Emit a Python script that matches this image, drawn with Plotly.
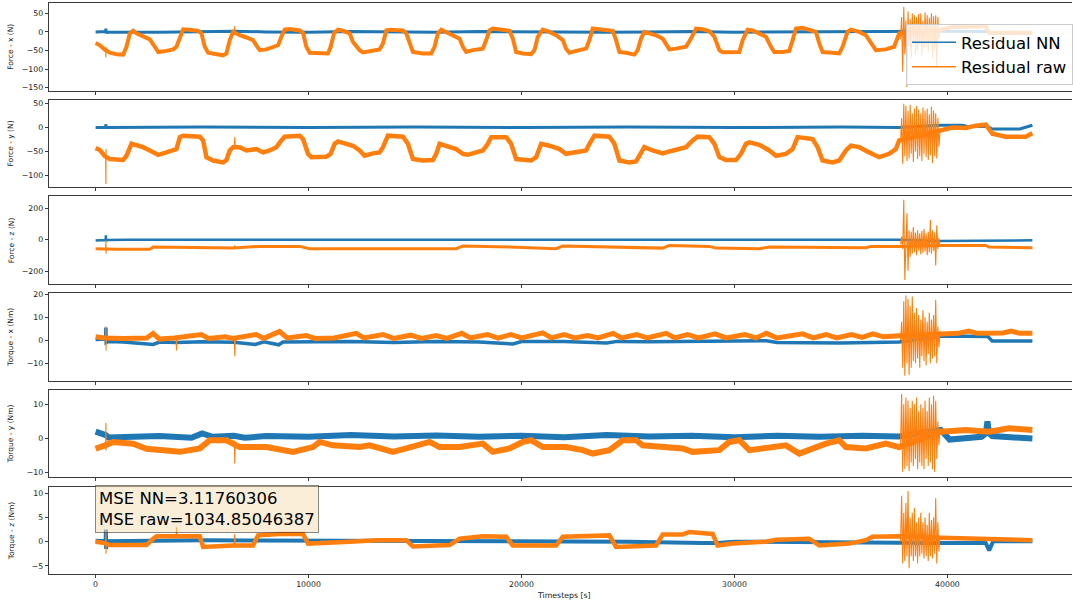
import plotly.graph_objects as go

W, H = 1073, 601
BLUE = '#1f77b4'
ORANGE = '#ff7f0e'
FONT = 'DejaVu Sans'

# ---------------- data (timestep, value) ----------------
x_ticks = [0, 10000, 20000, 30000, 40000]

fx_nn = [(0, 0), (470, 1), (483, 9), (495, -4), (520, 0), (3000, -1), (5000, 1), (6500, 2), (8000, 0),
         (10000, -1), (12000, 1), (14000, 0), (16000, -1), (18000, 1), (20000, 0), (22000, 1), (24000, -1),
         (26000, 0), (28000, 1), (30000, -1), (32000, 0), (34000, 1), (36000, 0), (37735, 1), (39690, 2),
         (41900, 1), (42100, -4), (43990, -3)]
fx_raw = [(0, -30), (201, -36), (440, -48), (671, -56), (983, -60), (1296, -61), (1452, -40), (1609, -4),
          (1765, 3), (1922, -4), (2234, -12), (2547, -20), (2782, -40), (2938, -54), (3329, -51), (3642, -47),
          (3798, -40), (3955, -13), (4111, 7), (4424, 6), (4815, 3), (4971, -4), (5127, -40), (5284, -56),
          (5675, -60), (5987, -63), (6144, -58), (6300, -22), (6457, 0), (6769, -9), (7082, -15), (7395, -22),
          (7551, -36), (7708, -49), (8020, -47), (8333, -40), (8568, -36), (8724, -13), (8880, 6), (9115, 8),
          (9584, 4), (9741, -3), (9897, -40), (10053, -56), (10522, -58), (10913, -58), (11039, -40),
          (11195, -4), (11383, 6), (11617, 3), (11930, -4), (12086, -27), (12399, -49), (12556, -55),
          (12868, -52), (13337, -47), (13494, -31), (13650, 4), (13807, 6), (14432, 4), (14588, -4),
          (14745, -31), (14901, -54), (15370, -58), (15761, -58), (15918, -40), (16074, -4), (16230, 6),
          (16465, 0), (16778, -9), (17091, -18), (17247, -40), (17403, -54), (17716, -49), (18185, -45),
          (18342, -22), (18498, 4), (18654, 9), (19123, 6), (19436, 3), (19593, -18), (19749, -54),
          (20062, -58), (20453, -60), (20609, -49), (20765, -13), (21000, 6), (21313, 0), (21626, -9),
          (21938, -22), (22095, -45), (22251, -56), (22720, -49), (23033, -45), (23189, -22), (23346, 9),
          (23815, 6), (24284, 3), (24440, -22), (24597, -54), (24910, -56), (25300, -61), (25457, -49),
          (25613, -18), (25770, 0), (26004, -3), (26317, -9), (26630, -18), (26942, -47), (27255, -45),
          (27724, -40), (27959, -18), (28194, 9), (28506, 7), (28821, 2), (29056, -13), (29290, -49),
          (29447, -55), (29916, -56), (30229, -54), (30385, -22), (30620, 6), (30854, 4), (31167, -4),
          (31480, -13), (31714, -40), (31871, -54), (32262, -54), (32574, -51), (32731, -22), (32887, 9),
          (33200, 11), (33669, 4), (33825, 0), (33982, -31), (34138, -54), (34607, -56), (34920, -58),
          (35076, -40), (35311, 0), (35467, 6), (35858, 0), (36171, -9), (36406, -27), (36640, -49),
          (37109, -47), (37500, -40), (37735, -4), (39690, 6), (40237, 13), (41801, 15), (41957, -2),
          (43990, -2)]
fx_raw_spikes = [[(470, -50), (483, -69), (490, -40), (500, -52)], [(6510, -2), (6535, 15), (6560, -3)]]

fy_nn = [(0, 0), (470, 0), (483, 7), (495, -2), (520, 0), (5000, 1), (10000, 0), (15000, 1), (20000, 0),
         (25000, 1), (30000, 0), (35000, 1), (37735, 0), (39690, 5), (40700, 5), (41000, 2), (41900, 2),
         (42100, -3), (43400, -3), (43990, 5)]
fy_raw = [(0, -43), (201, -47), (440, -60), (671, -66), (1296, -68), (1452, -59), (1687, -34), (1922, -36),
          (2234, -41), (2547, -48), (2938, -57), (3329, -52), (3642, -48), (3798, -45), (3955, -20),
          (4111, -17), (4893, -19), (5049, -27), (5206, -62), (5518, -69), (5987, -73), (6144, -68),
          (6300, -48), (6457, -41), (6769, -41), (7082, -48), (7551, -45), (7864, -52), (8177, -48),
          (8490, -41), (8724, -27), (8880, -19), (9584, -17), (9741, -24), (9975, -55), (10131, -62),
          (10835, -61), (11039, -55), (11226, -34), (11383, -29), (11774, -34), (12086, -38), (12399, -48),
          (12634, -59), (13025, -54), (13337, -52), (13494, -41), (13728, -17), (14432, -19), (14667, -34),
          (14901, -66), (15370, -69), (15840, -68), (15996, -55), (16152, -34), (16465, -38), (16934, -45),
          (17247, -55), (17481, -57), (17872, -52), (18185, -48), (18420, -34), (18576, -20), (19280, -20),
          (19514, -34), (19749, -66), (20453, -69), (20687, -62), (20922, -34), (21313, -38), (21782, -45),
          (22095, -55), (22564, -52), (23033, -48), (23189, -34), (23424, -17), (24128, -19), (24362, -34),
          (24597, -69), (25066, -73), (25379, -71), (25613, -52), (25770, -41), (26161, -48), (26630, -54),
          (26942, -50), (27412, -45), (27724, -41), (28037, -27), (28272, -19), (28821, -20), (29056, -34),
          (29290, -62), (29603, -68), (30072, -68), (30307, -55), (30541, -34), (30698, -31), (31167, -36),
          (31636, -48), (31949, -59), (32418, -55), (32731, -45), (32965, -20), (33669, -24), (33904, -41),
          (34138, -69), (34607, -73), (34920, -69), (35233, -48), (35467, -38), (35858, -41), (36328, -52),
          (36797, -62), (37266, -55), (37578, -45), (37735, -27), (39690, -6), (40237, 0), (40862, -1),
          (41331, 4), (41801, 6), (42035, -10), (42113, -13), (42739, -19), (43208, -20), (43677, -19),
          (43990, -12)]
fy_raw_spikes = [[(470, -62), (483, -118), (490, -45), (500, -63)], [(6510, -41), (6535, -20), (6560, -42)]]

fz_nn = [(0, -5), (470, -3), (483, 28), (490, -12), (500, -2), (1500, -1), (10000, 0), (20000, 1),
         (30000, 0), (37735, 0), (39690, -8), (41900, -8), (42000, -4), (43990, -4)]
fz_raw = [(0, -58), (440, -60), (983, -62), (2547, -62), (2703, -47), (6457, -53), (7473, -45), (7708, -43),
          (9584, -43), (10053, -58), (16934, -58), (17247, -41), (19436, -47), (21626, -58), (21938, -41),
          (24440, -47), (26630, -54), (26942, -37), (28819, -43), (29134, -54), (31167, -58), (31636, -47),
          (36171, -51), (36406, -43), (37735, -43), (39690, -37), (41801, -37), (41957, -47), (43990, -51)]
fz_raw_spikes = [[(470, -60), (483, -4), (490, -90), (500, -60)], [(6510, -53), (6535, -36), (6560, -53)]]

tx_nn = [(0, 0.3), (470, 0.5), (483, 5.5), (495, -1), (600, -0.5), (1300, -0.8), (2700, -1.8), (3000, -0.8),
         (3800, -1), (5000, -0.7), (6500, -0.9), (7500, -1.8), (7900, -0.7), (8600, -2), (8800, -0.8),
         (11000, -0.6), (12000, -0.6), (14000, -1), (16000, -0.6), (18000, -0.8), (19600, -1.6),
         (20000, -0.6), (22000, -0.5), (24000, -1.2), (24500, -0.5), (26000, -0.7), (28000, -0.5),
         (29000, -0.2), (31500, -0.2), (32000, -1), (35000, -1.2), (37735, -0.8), (39690, 1.8),
         (41900, 1.6), (42100, -0.3), (43990, -0.3)]
tx_raw = [(0, 1.5), (440, 1), (1300, 0.8), (2400, 1), (2700, 3), (3000, 0.5), (3700, 1), (4970, 2.5),
          (5300, 0.8), (6100, 1.5), (6450, 0.8), (7550, 2.5), (7900, 0.8), (8640, 3.8), (9000, 1), (9900, 2),
          (10300, 0.8), (11200, 1), (12240, 3), (12600, 1), (13500, 2.5), (14000, 0.8), (14800, 2.2),
          (15300, 0.8), (16000, 2), (16500, 0.8), (17200, 3), (17600, 1), (18400, 2.5), (18900, 0.9),
          (19500, 2.5), (20000, 1), (21000, 3.2), (21400, 1), (22000, 2.5), (22500, 1), (23100, 2),
          (23600, 1), (24300, 3), (24700, 1), (25400, 2.5), (25900, 1), (26800, 3), (27200, 1), (27800, 2.5),
          (28300, 1), (29100, 2.8), (29600, 1), (30500, 2.5), (31000, 1), (31500, 3), (32000, 1),
          (33200, 2.8), (33700, 1), (34300, 2.5), (34800, 1), (35500, 2.5), (36000, 1.2), (36500, 2.8),
          (37000, 1.5), (37735, 2), (39690, 3), (40500, 3), (41000, 4), (41400, 3), (42600, 3.2),
          (43000, 4), (43400, 3), (43990, 3)]
tx_raw_spikes = [[(470, 1), (483, 6), (490, -4.5), (500, 1)], [(3780, 1), (3800, -4.5), (3820, 1)],
                 [(6510, 1), (6535, -7), (6560, 1)]]

ty_nn = [(0, 2), (400, 1.5), (483, 1), (600, 0.3), (1500, 0.3), (3000, 0.7), (4500, 0.2), (5000, 1.5),
         (5500, 0.5), (6500, 0.8), (7000, 0.2), (8000, 0.7), (10000, 0.5), (12000, 1), (14000, 0.6),
         (16000, 0.9), (18000, 0.5), (20000, 0.8), (22000, 0.4), (24000, 1), (26000, 0.6), (28000, 0.8),
         (30000, 0.4), (32000, 0.8), (34000, 0.5), (36000, 0.8), (37735, 0.6), (39690, 2.5), (40100, -0.3),
         (41600, 0.5), (41800, 1.5), (41880, 5), (41960, 1.5), (42100, 0.7), (43990, 0)]
ty_raw = [(0, -3), (300, -2.5), (440, -2), (827, -1), (1765, -1.5), (2391, -3), (3642, -3.4), (3955, -3.9),
          (4893, -2.9), (5362, -0.5), (6144, -0.5), (6769, -2.5), (8020, -2.5), (8646, -3.4), (9271, -3.9),
          (10210, -2.5), (10522, -1), (11148, -2), (12399, -2.5), (12868, -2), (13494, -2.9), (13963, -3.9),
          (14588, -2.9), (15683, -1), (16152, -2.5), (17091, -2.5), (18185, -1.5), (18654, -3.9),
          (19436, -2.9), (20062, -1), (20453, -0.5), (21000, -2.5), (22095, -2.5), (22877, -3.4),
          (23346, -4.4), (24128, -3.4), (24753, -0.5), (25379, -0.5), (25692, -2), (26786, -2.5),
          (27568, -2.9), (28037, -3.9), (28352, -3.7), (29290, -3.4), (29759, -1), (30229, -0.5),
          (30698, -3.4), (31480, -2.9), (32418, -2), (33043, -4.4), (33669, -2.9), (34294, -1.5),
          (34920, -0.5), (35233, -2.5), (36171, -2.9), (37109, -1.5), (37735, -2.5), (39690, 2),
          (40862, 2.5), (41957, 2), (42895, 3), (43990, 2.5)]
ty_raw_spikes = [[(470, -2), (483, 4.5), (490, -3.5), (500, -2)], [(6510, -0.5), (6535, -7.3), (6560, -1)]]

tz_nn = [(0, 0.2), (470, 0.1), (483, 2.5), (495, -1.5), (520, 0.1), (5000, 0.3), (10000, 0.2), (15000, 0),
         (20000, 0), (25000, 0), (28500, -0.3), (29200, -0.3), (30000, 0), (35000, 0), (37735, -0.2),
         (39690, -0.3), (41800, -0.3), (41960, -1.8), (42150, 0.1), (43990, 0.1)]
tz_raw = [(0, 0), (440, -0.3), (671, -0.7), (2391, -0.7), (2703, 0.6), (2860, 1.1), (4893, 1.1), (5049, -1.1),
          (6457, -0.8), (7395, -0.8), (7629, 1.3), (8646, 1.6), (9741, 1.6), (9975, -0.4), (11930, 0),
          (13181, 0.3), (14588, 0.3), (14901, -1), (16621, -0.7), (17091, 0.6), (18185, 1.1), (19280, 1),
          (19593, -0.8), (21626, -0.8), (21938, 1), (24128, 1.3), (24440, -1.1), (25535, -0.8), (26317, -0.8),
          (26630, 1.5), (27568, 1.5), (27881, 2), (28800, 1.8), (28977, 1.6), (29212, -0.8), (29916, -0.4),
          (31480, 0), (31949, 0.4), (33513, 0.6), (33982, -0.8), (35389, -0.4), (36171, 0.3), (36484, 1),
          (37735, 1.1), (39690, 0.8), (43990, 0.3)]
tz_raw_spikes = [[(470, -0.3), (483, 2.3), (490, -2.5), (500, -0.5)], [(3780, 0.9), (3800, 3), (3820, 0.9)],
                 [(6510, -0.8), (6535, 1.6), (6560, -0.8)]]

# oscillation burst near the end (shared timesteps)
burst_t = [37800, 37850, 37900, 37950, 38000, 38050, 38100, 38150, 38200, 38250, 38300, 38350, 38400,
           38450, 38500, 38550, 38600, 38650, 38700, 38750, 38800, 38850, 38900, 38950, 39000, 39050,
           39100, 39150, 39200, 39250, 39300, 39350, 39400, 39450, 39500, 39550, 39600, 39650]
fx_raw_burst = [-20, 40, -107, 67, -60, 30, -148, 55, -40, 35, -70, 50, -30, 45, -60, 40, -50, 48, -35, 50,
                -65, 30, -45, 52, -40, 45, -55, 38, -30, 50, -70, 42, -50, 45, -94, 40, -20, 10]
fy_raw_burst = [-30, 20, -76, 50, -60, 45, -70, 35, -65, 48, -55, 30, -72, 40, -50, 45, -66, 38, -60, 30,
                -70, 42, -55, 35, -62, 40, -68, 28, -58, 44, -74, 36, -60, 30, -65, 20, -40, -10]
fz_raw_burst = [-30, 20, -60, 254, -258, 40, 168, -198, 60, -110, 50, -90, 80, -80, 45, -100, 60, -70, 40,
                -95, 55, -85, 70, -75, 40, -100, 50, -80, 125, -90, 60, -70, 45, -165, 92, -60, 10, -40]
tx_raw_burst = [0, 8, -12, 17, -15.4, 19.4, -10, 18, -15, 15, -12, 19, -9, 12, -10, 14, -8, 11, -12, 9,
                -7, 13, -9, 10, -11, 8, -6, 12, -10, 9, -8, 11, -7, 17.6, -10, 6, -3, 4]
ty_raw_burst = [-2, 13, -9.8, 10, -9, 12, -8, 11, -9.5, 9, -7, 11, -8, 10, -6, 12, -9, 8, -7, 10,
                -8, 9, -9, 11, -6, 8, -8, 12, -7, 10, -9, 12.5, -9.8, 11, -6, 5, -2, 3]
tz_raw_burst = [0, 9.5, -4.5, 6, -4, 8, -3, 10.5, -5.5, 5, -3, 6, -4, 7, -3, 4, -4.5, 5, -3, 6,
                -2.5, 4, -3.5, 5, -3, 3.5, -4, 6, -3, 4.5, -3.5, 5, -2.5, 9, -4.5, 4, -2, 1]

y_labels = ['Force - x (N)', 'Force - y (N)', 'Force - z (N)',
            'Torque - x (Nm)', 'Torque - y (Nm)', 'Torque - z (Nm)']
legend_names = ['Residual NN', 'Residual raw']
mse_text = 'MSE NN=3.11760306<br>MSE raw=1034.85046387'

# ---------------- styling / layout ----------------
panels = [
    dict(nn=fx_nn, raw=fx_raw, spikes=fx_raw_spikes, burst=fx_raw_burst, yr=[-157.8, 77.7], dt=50, wn=3, wr=4),
    dict(nn=fy_nn, raw=fy_raw, spikes=fy_raw_spikes, burst=fy_raw_burst, yr=[-125.1, 58.4], dt=50, wn=3, wr=4.5),
    dict(nn=fz_nn, raw=fz_raw, spikes=fz_raw_spikes, burst=fz_raw_burst, yr=[-282.9, 275.9], dt=200, wn=2.5, wr=3),
    dict(nn=tx_nn, raw=tx_raw, spikes=tx_raw_spikes, burst=tx_raw_burst, yr=[-17.6, 20.5], dt=10, wn=3.5, wr=5),
    dict(nn=ty_nn, raw=ty_raw, spikes=ty_raw_spikes, burst=ty_raw_burst, yr=[-11.37, 14.24], dt=10, wn=6, wr=6),
    dict(nn=tz_nn, raw=tz_raw, spikes=tz_raw_spikes, burst=tz_raw_burst, yr=[-6.71, 11.41], dt=5, wn=4, wr=4.5),
]

left_px = 48.8
top_px = [3.0, 99.7, 196.4, 293.1, 389.8, 486.5]
h_px = 87.6
x_range = [-2200, 45850]
LINE = '#3a3a3a'
tickfont = dict(family=FONT, size=7.8, color='#222222')


def unzip(pairs):
    return [p[0] for p in pairs], [p[1] for p in pairs]


fig = go.Figure()
layout = {}
for i, p in enumerate(panels):
    n = '' if i == 0 else str(i + 1)
    xa, ya = 'x' + n, 'y' + n
    tn, vn = unzip(p['nn'])
    tr, vr = unzip(p['raw'])
    fig.add_trace(go.Scatter(x=tn, y=vn, mode='lines', line=dict(color=BLUE, width=p['wn']),
                             showlegend=False, xaxis=xa, yaxis=ya, hoverinfo='skip'))
    fig.add_trace(go.Scatter(x=tr, y=vr, mode='lines', line=dict(color=ORANGE, width=p['wr']),
                             showlegend=False, xaxis=xa, yaxis=ya, hoverinfo='skip'))
    ft, fv = [], []
    for seg in p['spikes']:
        st, sv = unzip(seg)
        ft += st + [None]
        fv += sv + [None]
    ft += burst_t
    fv += p['burst']
    fig.add_trace(go.Scatter(x=ft, y=fv, mode='lines', line=dict(color=ORANGE, width=1.1),
                             showlegend=False, xaxis=xa, yaxis=ya, hoverinfo='skip'))
    top = top_px[i]
    layout['xaxis' + n] = dict(domain=[left_px / W, 1], range=x_range, anchor=ya, showline=True, mirror=True,
                               linecolor=LINE, linewidth=1, ticks='outside', ticklen=3, tickcolor=LINE,
                               tickvals=x_ticks, tickformat='d', showticklabels=(i == 5), showgrid=False,
                               zeroline=False, tickfont=tickfont, automargin=False)
    layout['yaxis' + n] = dict(domain=[1 - (top + h_px) / H, 1 - top / H], range=p['yr'], anchor=xa,
                               showline=True, mirror=False, linecolor=LINE, linewidth=1, ticks='outside',
                               ticklen=3, tickcolor=LINE, dtick=p['dt'], tick0=0, showgrid=False,
                               zeroline=False, tickfont=tickfont, automargin=False)

# legend entries (thin lines as in the original legend)
fig.add_trace(go.Scatter(x=[None], y=[None], mode='lines', line=dict(color=BLUE, width=1.5),
                         name=legend_names[0], xaxis='x', yaxis='y'))
fig.add_trace(go.Scatter(x=[None], y=[None], mode='lines', line=dict(color=ORANGE, width=1.5),
                         name=legend_names[1], xaxis='x', yaxis='y'))

annotations = []
for i, lab in enumerate(y_labels):
    annotations.append(dict(text=lab, xref='paper', yref='paper', x=11 / W,
                            y=1 - (top_px[i] + h_px / 2) / H, textangle=-90, showarrow=False,
                            xanchor='center', yanchor='middle',
                            font=dict(family=FONT, size=7.5, color='#222222')))
annotations.append(dict(text='Timesteps [s]', xref='paper', yref='paper', x=564.4 / W, y=1 - 595 / H,
                        showarrow=False, xanchor='center', yanchor='middle',
                        font=dict(family=FONT, size=7.8, color='#222222')))
annotations.append(dict(text=mse_text, xref='paper', yref='paper', x=95.5 / W, y=1 - 485.5 / H,
                        xanchor='left', yanchor='top', align='left', showarrow=False,
                        bgcolor='rgba(245,222,179,0.5)', bordercolor='rgba(0,0,0,0.45)', borderwidth=1,
                        borderpad=3, font=dict(family=FONT, size=16.5, color='#000000')))

fig.update_layout(
    width=W, height=H, margin=dict(l=0, r=0, t=0, b=0),
    paper_bgcolor='white', plot_bgcolor='white',
    font=dict(family=FONT, color='#222222'),
    showlegend=True,
    legend=dict(x=907 / W, y=1 - 24 / H, xanchor='left', yanchor='top', bgcolor='rgba(255,255,255,0.8)',
                bordercolor='#cccccc', borderwidth=1, font=dict(family=FONT, size=16.5, color='#000000'),
                tracegroupgap=0, itemwidth=44),
    annotations=annotations,
    **layout,
)

fig.write_html('out.html')
